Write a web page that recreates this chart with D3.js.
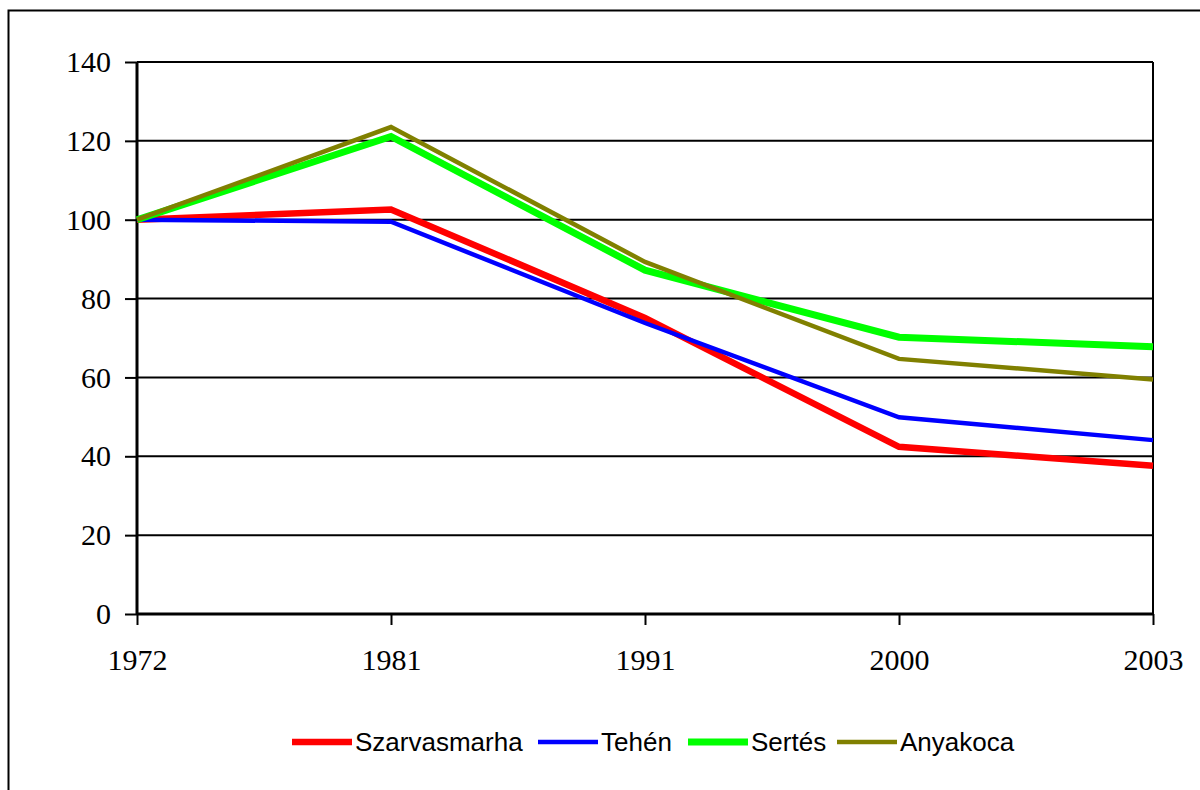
<!DOCTYPE html>
<html>
<head>
<meta charset="utf-8">
<script src="https://cdn.jsdelivr.net/npm/d3@7"></script>
<style>
  body { margin: 0; background: #fff; }
  svg { display: block; }
</style>
</head>
<body>
<svg width="1200" height="790"></svg>
<script>
// years on the category axis
var years = ["1972", "1981", "1991", "2000", "2003"];
var yTicks = [0, 20, 40, 60, 80, 100, 120, 140];

// index values, 1972 = 100
var szarvasmarha = [100, 102.6, 75.1, 42.4, 37.6];
var tehen = [100, 99.5, 73.8, 49.9, 44.1];
var sertes = [100, 121.1, 87.2, 70.2, 67.8];
var anyakoca = [100, 123.5, 89.3, 64.7, 59.5];

var seriesNames = ["Szarvasmarha", "Tehén", "Sertés", "Anyakoca"];
var seriesColors = ["#ff0000", "#0000ff", "#00ff00", "#808000"];
var seriesWidths = [6.5, 4.5, 7, 4.5];
var seriesValues = [szarvasmarha, tehen, sertes, anyakoca];

var svg = d3.select("svg");

// outer chart frame (runs off the right and bottom edges)
svg.append("rect")
    .attr("x", 8.5).attr("y", 10.5)
    .attr("width", 1260).attr("height", 900)
    .attr("fill", "none")
    .attr("stroke", "#000")
    .attr("stroke-width", 2);

var plotLeft = 137, plotRight = 1153, plotTop = 62, plotBottom = 614;

var x = d3.scalePoint()
    .domain(years)
    .range([plotLeft, plotRight]);

var y = d3.scaleLinear()
    .domain([0, 140])
    .range([plotBottom, plotTop]);

// gridlines
svg.append("g")
    .selectAll("line")
    .data(yTicks)
    .enter()
    .append("line")
    .attr("x1", plotLeft).attr("x2", plotRight)
    .attr("y1", function (d) { return y(d); })
    .attr("y2", function (d) { return y(d); })
    .attr("stroke", "#000")
    .attr("stroke-width", 2);

// right border of plot area
svg.append("line")
    .attr("x1", plotRight).attr("x2", plotRight)
    .attr("y1", plotTop).attr("y2", plotBottom)
    .attr("stroke", "#000")
    .attr("stroke-width", 2);

// y axis
var yAxis = svg.append("g")
    .attr("transform", "translate(" + plotLeft + ",0)")
    .call(d3.axisLeft(y).tickValues(yTicks).tickSize(12).tickPadding(14));

// x axis
var xAxis = svg.append("g")
    .attr("transform", "translate(0," + plotBottom + ")")
    .call(d3.axisBottom(x).tickSize(11).tickPadding(24));

[yAxis, xAxis].forEach(function (ax) {
    ax.select(".domain").attr("stroke", "#000").attr("stroke-width", 3);
    ax.selectAll(".tick line").attr("stroke", "#000").attr("stroke-width", 2);
    ax.selectAll(".tick text")
        .attr("fill", "#000")
        .style("font-family", "'Liberation Serif', 'Times New Roman', serif")
        .style("font-size", "30px");
});
yAxis.select(".domain").attr("d", "M0," + plotBottom + "V" + plotTop);
xAxis.select(".domain").attr("d", "M" + plotLeft + ",0H" + plotRight);

// series lines
var line = d3.line()
    .x(function (d, i) { return x(years[i]); })
    .y(function (d) { return y(d); });

svg.append("g")
    .selectAll("path")
    .data(seriesValues)
    .enter()
    .append("path")
    .attr("d", line)
    .attr("fill", "none")
    .attr("stroke", function (d, i) { return seriesColors[i]; })
    .attr("stroke-width", function (d, i) { return seriesWidths[i]; })
    .attr("stroke-linejoin", "miter");

// legend
var legendX = [292, 538, 688, 837];
var legend = svg.append("g")
    .selectAll("g")
    .data(seriesNames)
    .enter()
    .append("g")
    .attr("transform", function (d, i) { return "translate(" + legendX[i] + ",742)"; });

legend.append("line")
    .attr("x1", 0).attr("x2", 60)
    .attr("stroke", function (d, i) { return seriesColors[i]; })
    .attr("stroke-width", function (d, i) { return seriesWidths[i]; });

legend.append("text")
    .attr("x", 63)
    .attr("dy", "0.35em")
    .style("font-family", "'Liberation Sans', Arial, sans-serif")
    .style("font-size", "26px")
    .text(function (d) { return d; });
</script>
</body>
</html>
